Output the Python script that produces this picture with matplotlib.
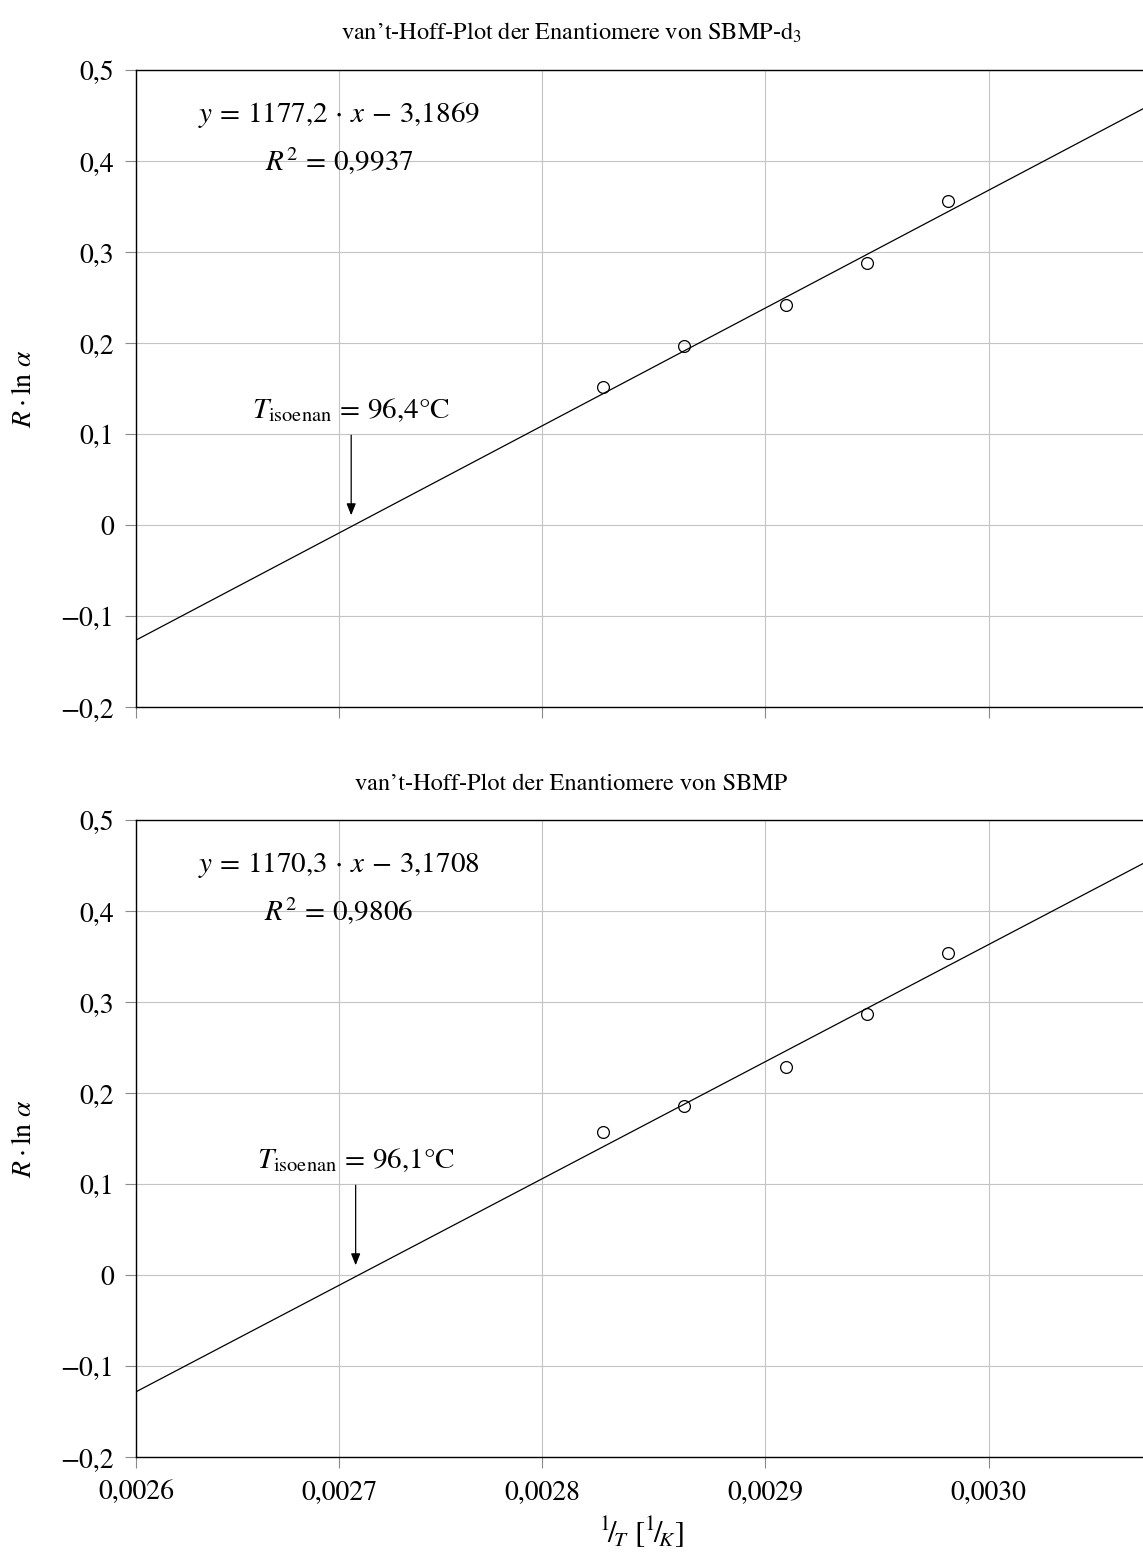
import matplotlib
matplotlib.use("Agg")
import matplotlib.pyplot as plt
import numpy as np

plt.rcParams['font.family'] = ['STIXGeneral', 'DejaVu Serif']
plt.rcParams['mathtext.fontset'] = 'stix'

# ---- data -------------------------------------------------------------
inv_T = [0.00283, 0.00287, 0.00292, 0.00296, 0.00300]          # 1/T [1/K]
r_ln_alpha_d3 = [0.1525, 0.1970, 0.2417, 0.2887, 0.3569]       # SBMP-d3
r_ln_alpha_h = [0.1571, 0.1860, 0.2286, 0.2875, 0.3545]        # SBMP

titles = ["van’t-Hoff-Plot der Enantiomere von SBMP-d$_3$",
          "van’t-Hoff-Plot der Enantiomere von SBMP"]
slopes = [1177.2, 1170.3]
intercepts = [-3.1869, -3.1708]
slope_labels = ["1177{,}2", "1170{,}3"]
intercept_labels = ["3{,}1869", "3{,}1708"]
r_squared_labels = ["0{,}9937", "0{,}9806"]
t_isoenan_c = [96.4, 96.1]
t_isoenan_labels = ["96{,}4", "96{,}1"]

x_ticks = [0.0026, 0.0027, 0.0028, 0.00291, 0.00302]
x_tick_labels = ["0,0026", "0,0027", "0,0028", "0,0029", "0,0030"]
y_ticks = [0.5, 0.4, 0.3, 0.2, 0.1, 0.0, -0.1, -0.2]
y_tick_labels = ["0,5", "0,4", "0,3", "0,2", "0,1", "0", "−0,1", "−0,2"]

X_MIN, X_MAX = 0.0026, 0.003096
Y_MIN, Y_MAX = -0.2, 0.5

# ---- layout (pixel based) ---------------------------------------------
W, H = 1143, 1555
FS = 20
FS_NOTE = 21
FS_TITLE = 17.5

fig = plt.figure(figsize=(W / 100, H / 100), dpi=100)


def px_rect(left, top, right, bottom):
    return [left / W, 1 - bottom / H, (right - left) / W, (bottom - top) / H]


panels = [(70.3, 707.3, 40), (820.3, 1457.3, 790)]
series = [r_ln_alpha_d3, r_ln_alpha_h]

for i, (top, bottom, title_base) in enumerate(panels):
    ax = fig.add_axes(px_rect(136, top, 1143, bottom))
    ax.set_xlim(X_MIN, X_MAX)
    ax.set_ylim(Y_MIN, Y_MAX)

    ax.set_xticks(x_ticks)
    ax.set_yticks(y_ticks)
    ax.set_yticklabels(y_tick_labels)
    if i == 1:
        ax.set_xticklabels(x_tick_labels)
    else:
        ax.set_xticklabels([])

    ax.grid(True, color='#c4c4c4', linewidth=0.8)
    ax.set_axisbelow(True)
    ax.tick_params(axis='both', direction='out', length=8, width=0.8,
                   color='#8a8a8a', labelsize=FS, pad=8)
    for side in ('top', 'left', 'bottom'):
        ax.spines[side].set_linewidth(1.0)
        ax.spines[side].set_color('black')
    ax.spines['right'].set_visible(False)

    # regression line
    xs = np.array([X_MIN, X_MAX])
    ax.plot(xs, slopes[i] * xs + intercepts[i], color='black', lw=0.9,
            zorder=3)
    # measured points
    ax.plot(inv_T, series[i], 'o', mfc='none', mec='black', ms=8.5,
            mew=0.9, zorder=4)

    # fit equation
    ax.text(0.0027, 0.443,
            rf"$y\,=\,{slope_labels[i]}\,\cdot\,x\,-\,{intercept_labels[i]}$",
            ha='center', va='baseline', fontsize=FS_NOTE)
    ax.text(0.0027, 0.389, rf"$R^2\,=\,{r_squared_labels[i]}$",
            ha='center', va='baseline', fontsize=FS_NOTE)

    # isoenantioselective temperature
    x_iso = 1.0 / (t_isoenan_c[i] + 273.15)
    ax.text(x_iso, 0.118,
            rf"$T_{{\mathrm{{isoenan}}}}\,=\,{t_isoenan_labels[i]}$°C",
            ha='center', va='baseline', fontsize=FS_NOTE)
    ax.annotate("", xy=(x_iso, 0.011), xytext=(x_iso, 0.099),
                arrowprops=dict(arrowstyle='-|>,head_length=0.5,head_width=0.2',
                                color='black', lw=0.9, mutation_scale=14,
                                shrinkA=0, shrinkB=0))

    fig.text(0.5, 1 - title_base / H, titles[i], ha='center',
             va='baseline', fontsize=FS_TITLE)
    fig.text(24 / W, 1 - (top + bottom) / 2 / H, r"$R \cdot \ln\, \alpha$",
             rotation=90, ha='center', va='center', fontsize=FS)

fig.text(641 / W, 1 - 1532 / H,
         r"${}^{1}\!/\!_{T}$ $[{}^{1}\!/\!_{K}]$",
         ha='center', va='center', fontsize=22)

fig.savefig("out.png", dpi=100)
